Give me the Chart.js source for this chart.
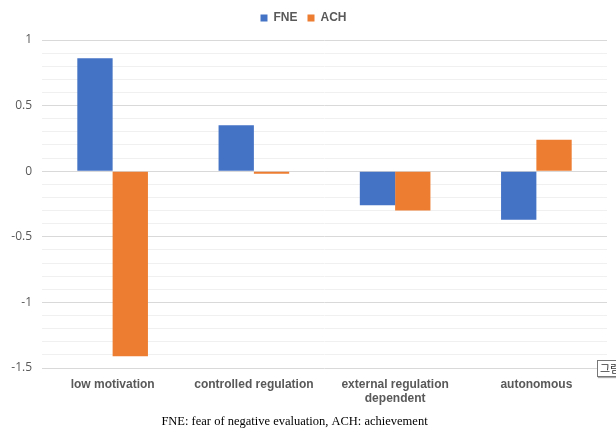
<!DOCTYPE html>
<html><head><meta charset="utf-8">
<script src="https://cdn.jsdelivr.net/npm/chart.js@4/dist/chart.umd.min.js"></script>
<style>
html,body{margin:0;padding:0;background:#fff;}
#wrap{position:relative;width:616px;height:431px;overflow:hidden;}
#tag{position:absolute;left:597px;top:360px;width:30px;height:15px;border:1px solid #777;background:#fff;font:11px "Noto Sans CJK KR";color:#333;line-height:15px;padding-left:2px;box-shadow:1px 1px 1px #aaa;overflow:hidden;white-space:nowrap;}
</style></head>
<body><div id="wrap"><canvas id="c" width="616" height="431"></canvas><div id="tag">그림</div></div>
<script>
const categories = ["low motivation", ["controlled regulation"], ["external regulation", "dependent"], "autonomous"];
const fneValues = [0.86, 0.35, -0.26, -0.37];
const achValues = [-1.41, -0.02, -0.30, 0.24];
const seriesNames = ["FNE", "ACH"];
const caption = "FNE: fear of negative evaluation, ACH: achievement";

const isMajor = v => Math.abs(v * 2 - Math.round(v * 2)) < 1e-6;

const legendGap = {
  id: 'legendGap',
  beforeInit(chart) {
    const fit = chart.legend.fit;
    chart.legend.fit = function () { fit.call(this); this.height += 6; };
  },
  afterLayout(chart) {
    const t = chart.titleBlock;
    if (t) { t.left -= 9; t.right -= 9; }
  }
};

new Chart(document.getElementById('c'), {
  type: 'bar',
  data: {
    labels: categories,
    datasets: [
      { label: seriesNames[0], data: fneValues, backgroundColor: '#4472C4' },
      { label: seriesNames[1], data: achValues, backgroundColor: '#ED7D31' }
    ]
  },
  plugins: [legendGap],
  options: {
    responsive: false,
    animation: false,
    layout: { padding: { left: 0, right: 9, top: 2, bottom: 2 } },
    datasets: { bar: { barPercentage: 1.0, categoryPercentage: 0.5 } },
    plugins: {
      legend: {
        position: 'top',
        labels: { boxWidth: 7, boxHeight: 7, padding: 10, color: '#595959', font: { family: 'Liberation Sans', size: 12, weight: 'bold' } }
      },
      title: {
        display: true, position: 'bottom', text: caption, color: '#000',
        font: { family: 'Liberation Serif', size: 12.5, weight: 'normal' }, padding: { top: 8, bottom: 0 }
      },
      tooltip: { enabled: false }
    },
    scales: {
      x: {
        afterFit: s => { s.height = 38; },
        grid: { display: false },
        border: { display: false },
        ticks: { color: '#595959', maxRotation: 0, autoSkip: false, padding: 1, font: { family: 'Liberation Sans', size: 12, weight: 'bold' } }
      },
      y: {
        min: -1.5, max: 1,
        afterFit: s => { s.width = 42; },
        border: { display: false },
        grid: {
          drawTicks: false,
          color: ctx => isMajor(ctx.tick.value) ? '#d9d9d9' : '#f0f0f0',
          lineWidth: 1
        },
        ticks: {
          stepSize: 0.1, autoSkip: false, padding: 10, color: '#595959',
          font: { family: 'Open Sans', size: 12 },
          callback: v => isMajor(v) ? String(Math.round(v * 2) / 2) : ''
        }
      }
    }
  }
});
</script></body></html>
